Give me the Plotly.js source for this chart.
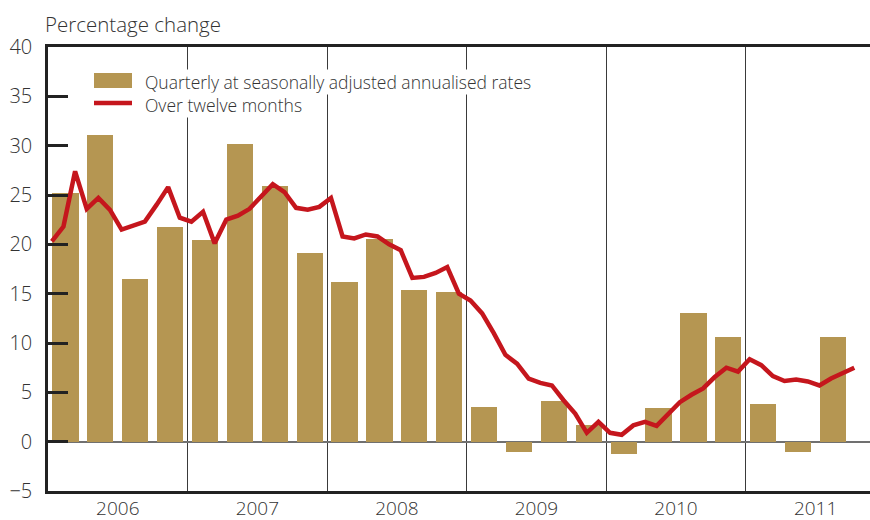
<!DOCTYPE html>
<html>
<head>
<meta charset="utf-8">
<script src="https://cdn.plot.ly/plotly-3.0.1.min.js"></script>
<style>html,body{margin:0;padding:0;background:#fff;}#chart{width:870px;height:520px;}</style>
</head>
<body>
<div id="chart"></div>
<script>
// Quarterly growth at seasonally adjusted annualised rates, 2006 Q1 - 2011 Q3
var quarterlyYears = [2006,2006,2006,2006,2007,2007,2007,2007,2008,2008,2008,2008,2009,2009,2009,2009,2010,2010,2010,2010,2011,2011,2011];
var quarterlyQuarters = [1,2,3,4,1,2,3,4,1,2,3,4,1,2,3,4,1,2,3,4,1,2,3];
var quarterlyValues = [25.2,31.1,16.5,21.8, 20.4,30.2,25.9,19.1, 16.2,20.5,15.4,15.2, 3.55,-1.0,4.15,1.7, -1.2,3.4,13.0,10.65, 3.85,-1.0,10.65];

// Over twelve months, monthly from January 2006 to October 2011
var monthlyStartYear = 2006;
var monthlyValues = [
  20.3,21.8,27.4,23.6,24.7,23.5,21.5,21.9,22.3,24.0,25.8,22.7,
  22.3,23.3,20.1,22.5,22.9,23.6,24.8,26.1,25.3,23.7,23.5,23.8,
  24.7,20.8,20.6,21.0,20.8,20.0,19.4,16.6,16.7,17.1,17.7,15.0,
  14.3,13.0,11.0,8.8,7.9,6.4,5.95,5.7,4.2,2.85,0.9,2.0,
  0.9,0.7,1.65,2.0,1.6,2.75,4.0,4.75,5.4,6.55,7.5,7.1,
  8.35,7.75,6.65,6.15,6.3,6.1,5.7,6.4,6.95,7.5
];

var yearLabels = ['2006','2007','2008','2009','2010','2011'];
var seriesNames = ['Quarterly at seasonally adjusted annualised rates','Over twelve months'];
var axisTitle = 'Percentage change';

var barColor = '#b59652';
var lineColor = '#c5161d';
var textColor = '#333333';
var fontFamily = '"Open Sans", "Liberation Sans", Arial, sans-serif';

var qx = quarterlyYears.map(function(y, i){ return y + (quarterlyQuarters[i] - 0.5) / 4; });
var mx = monthlyValues.map(function(v, i){ return monthlyStartYear + (i + 0.33) / 12; });
var yearTickVals = yearLabels.map(function(y){ return Number(y) + 0.5; });

var traces = [
  {type:'bar', x:qx, y:quarterlyValues, width:0.1875, marker:{color:barColor, line:{width:0}}, name:seriesNames[0], showlegend:false, hoverinfo:'x+y'},
  {type:'scatter', mode:'lines', x:mx, y:monthlyValues, line:{color:lineColor, width:4.5}, name:seriesNames[1], showlegend:false}
];

// pixel helpers for legend decorations (plot area: left 48, width 822, top 47, height 444)
function px(x){ return (x - 48) / 822; }
function py(y){ return (491 - y) / 444; }

var layout = {
  width:870, height:520,
  margin:{l:48, r:0, t:47, b:29, pad:0},
  paper_bgcolor:'#ffffff', plot_bgcolor:'#ffffff',
  font:{family:fontFamily, color:textColor, size:20, weight:300},
  title:{text:axisTitle, x:45/870, xanchor:'left', xref:'container', y:1-25/520, yanchor:'middle', yref:'container', font:{size:20.5, color:textColor, family:fontFamily, weight:300}},
  bargap:0,
  xaxis:{
    range:[2006.0, 2011.89], showline:true, mirror:true, linecolor:'#222222', linewidth:2.5,
    tickvals:yearTickVals, ticktext:yearLabels, ticks:'', showgrid:false, zeroline:false,
    tickfont:{size:19, color:textColor, weight:300}, ticklabelstandoff:-2,
    minor:{tick0:2006, dtick:1, showgrid:true, gridcolor:'#3a3a3a', gridwidth:1, ticks:''}
  },
  yaxis:{
    range:[-5, 40], dtick:5, showline:true, mirror:false, linecolor:'#222222', linewidth:2.5,
    ticks:'inside', ticklen:20, tickwidth:2.5, tickcolor:'#222222',
    showgrid:false, zeroline:true, zerolinecolor:'#707070', zerolinewidth:1.5,
    tickfont:{size:20, color:textColor, weight:300}, ticklabelstandoff:9
  },
  shapes:[
    {type:'rect', xref:'paper', yref:'paper', x0:px(94), x1:px(132), y0:py(88), y1:py(73), fillcolor:barColor, line:{width:0}},
    {type:'line', xref:'paper', yref:'paper', x0:px(94), x1:px(132), y0:py(103), y1:py(103), line:{color:lineColor, width:4.5}}
  ],
  annotations:[
    {xref:'paper', yref:'paper', x:px(144), y:py(82), xanchor:'left', yanchor:'middle', text:seriesNames[0], showarrow:false, bgcolor:'#ffffff', borderpad:0, font:{size:17.5, color:textColor, weight:300}},
    {xref:'paper', yref:'paper', x:px(144), y:py(105), xanchor:'left', yanchor:'middle', text:seriesNames[1], showarrow:false, bgcolor:'#ffffff', borderpad:0, font:{size:17.5, color:textColor, weight:300}}
  ],
  showlegend:false
};

Plotly.newPlot('chart', traces, layout, {displayModeBar:false, responsive:false});
</script>
</body>
</html>
